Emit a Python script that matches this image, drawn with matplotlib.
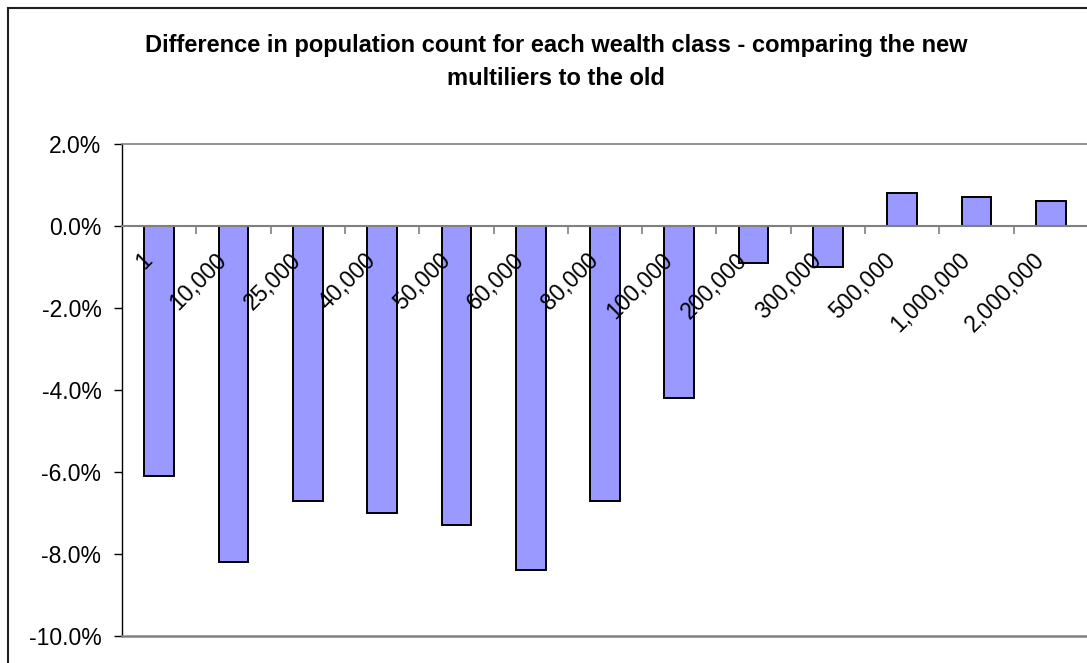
import matplotlib
matplotlib.use("Agg")
import matplotlib.pyplot as plt
from matplotlib.lines import Line2D
from matplotlib.transforms import ScaledTranslation

plt.rcParams['font.family'] = ['Liberation Sans', 'DejaVu Sans']

categories = ["1", "10,000", "25,000", "40,000", "50,000", "60,000", "80,000",
              "100,000", "200,000", "300,000", "500,000", "1,000,000", "2,000,000"]
values = [-6.1, -8.2, -6.7, -7.0, -7.3, -8.4, -6.7, -4.2, -0.9, -1.0, 0.8, 0.7, 0.6]
yticks = [2.0, 0.0, -2.0, -4.0, -6.0, -8.0, -10.0]
title_lines = ["Difference in population count for each wealth class - comparing the new",
               "multiliers to the old"]

W, H = 1087, 663
fig = plt.figure(figsize=(W / 100, H / 100), dpi=100)
fig.patch.set_facecolor("white")

left, right, top, bottom = 122, 1088, 144, 636
ax = fig.add_axes([left / W, 1 - bottom / H, (right - left) / W, (bottom - top) / H])

x = list(range(len(categories)))
ax.bar(x, values, width=0.4, color="#9999FF", edgecolor="black", linewidth=1.4, zorder=1)

ax.set_xlim(-0.5, len(categories) - 0.5)
ax.set_ylim(-10, 2)

# y axis
ax.set_yticks(yticks)
ax.set_yticklabels([f"{v:.1f}%" for v in yticks], fontsize=16.5)
ax.tick_params(axis="y", direction="out", length=5.8, width=1, color="black", pad=9)

# x axis at zero
ax.spines["bottom"].set_position(("data", 0))
ax.spines["bottom"].set_color("#808080")
ax.spines["bottom"].set_linewidth(1.5)
ax.spines["left"].set_color("black")
ax.spines["left"].set_linewidth(1.0)
ax.spines["top"].set_color("#808080")
ax.spines["top"].set_linewidth(1.2)
ax.spines["right"].set_visible(False)
ax.axhline(-10, color="#808080", lw=1.8, zorder=3, clip_on=False)

ax.set_xticks([i + 0.5 for i in x[:-1]])
ax.set_xticklabels([])
ax.tick_params(axis="x", which="major", direction="out", length=5.5, width=1.2, color="#808080")
ax.set_xticks(x, minor=True)
ax.set_xticklabels(categories, minor=True, fontsize=16.5, rotation=45,
                   ha="right", va="center", rotation_mode="anchor")
ax.tick_params(axis="x", which="minor", length=0, pad=22)
offset = ScaledTranslation(-10 / 100, 0, fig.dpi_scale_trans)
for lab in ax.get_xticklabels(minor=True):
    lab.set_transform(lab.get_transform() + offset)

# title
fig.text(556 / W, 1 - 52 / H, title_lines[0], ha="center", va="baseline",
         fontsize=17, fontweight="bold")
fig.text(556 / W, 1 - 85 / H, title_lines[1], ha="center", va="baseline",
         fontsize=17, fontweight="bold")

# outer chart border (cropped)
fig.add_artist(Line2D([8 / W, 8 / W], [0, 1 - 8 / H], transform=fig.transFigure,
                      color="#202020", lw=1.5))
fig.add_artist(Line2D([8 / W, 1], [1 - 8 / H, 1 - 8 / H], transform=fig.transFigure,
                      color="#202020", lw=1.5))

fig.savefig("out.png", dpi=100, facecolor="white")
